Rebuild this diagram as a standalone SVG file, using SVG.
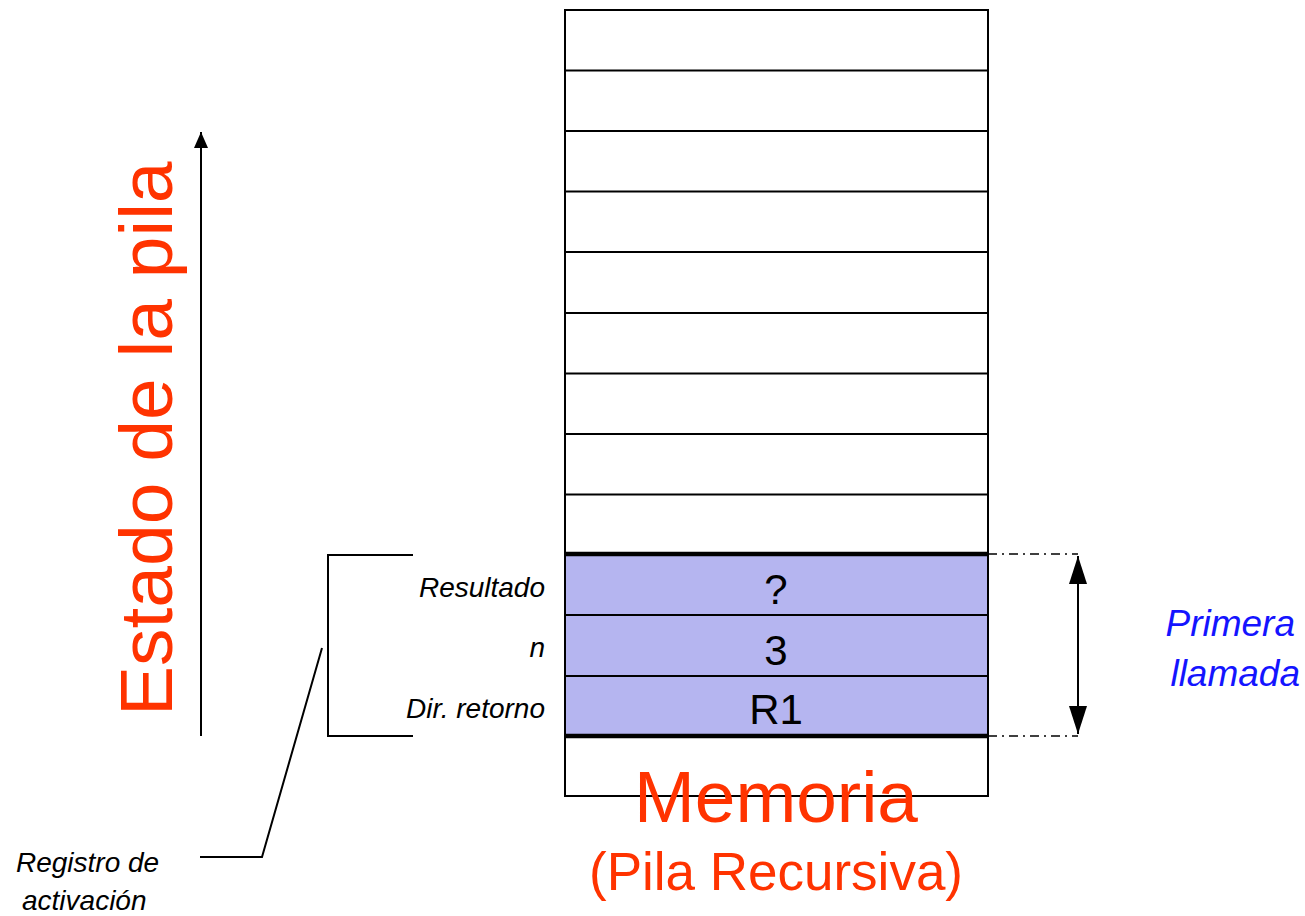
<svg xmlns="http://www.w3.org/2000/svg" width="1305" height="916" viewBox="0 0 1305 916">
<style>
.ln{stroke:#000;stroke-width:2;fill:none}
.thick{stroke:#000;stroke-width:4.5;fill:none}
.dd{stroke:#000;stroke-width:1.5;fill:none;stroke-dasharray:9 5 2 5}
.red{font-family:"Liberation Sans",Arial,sans-serif;fill:#ff3300}
.cell{font-family:"Liberation Sans",Arial,sans-serif;font-size:42px;fill:#000;text-anchor:middle}
.lab{font-family:"Liberation Sans",Arial,sans-serif;font-style:italic;font-size:28px;fill:#000}
.blue{font-family:"Liberation Sans",Arial,sans-serif;font-style:italic;font-size:37px;fill:#1414ff}
</style>
<defs>
<marker id="ah" markerWidth="16" markerHeight="18" refX="16" refY="9" orient="auto" markerUnits="userSpaceOnUse">
<path d="M0,2 L16,9 L0,16 Z" fill="#000"/>
</marker>
<marker id="big" markerWidth="28" markerHeight="18" refX="28" refY="9" orient="auto-start-reverse" markerUnits="userSpaceOnUse">
<path d="M0,0 L28,9 L0,18 Z" fill="#000"/>
</marker>
</defs>
<rect width="1305" height="916" fill="#fff"/>

<g id="stack">
<rect x="565" y="554" width="423" height="182" fill="#b5b5f0"/>
<rect x="565" y="10" width="423" height="786" class="ln"/>
<path class="ln" d="M565,70.5H988M565,131H988M565,191.5H988M565,252H988M565,313H988M565,373.5H988M565,434H988M565,494.5H988M565,615H988M565,676H988"/>
<path class="thick" d="M565,554H988M565,736H988"/>
</g>

<g id="cells">
<text class="cell" x="776" y="604">?</text>
<text class="cell" x="776" y="665">3</text>
<text class="cell" x="776" y="724">R1</text>
</g>

<g id="labels">
<text class="lab" x="545" y="597" text-anchor="end">Resultado</text>
<text class="lab" x="545" y="657" text-anchor="end">n</text>
<text class="lab" x="545" y="718" text-anchor="end">Dir. retorno</text>
<text class="lab" x="16" y="872">Registro de</text>
<text class="lab" x="22" y="910">activación</text>
</g>

<g id="titles">
<text class="red" font-size="75" transform="translate(172,716) rotate(-90)">Estado de la pila</text>
<text class="red" font-size="73" x="776" y="822" text-anchor="middle">Memoria</text>
<text class="red" font-size="53" x="776" y="890" text-anchor="middle">(Pila Recursiva)</text>
<text class="blue" x="1295" y="636" text-anchor="end">Primera</text>
<text class="blue" x="1300" y="686" text-anchor="end">llamada</text>
</g>

<g id="connectors">
<line x1="201" y1="736" x2="201" y2="132" class="ln" marker-end="url(#ah)"/>
<path class="ln" d="M413,555H328V736H413"/>
<path class="ln" d="M322,648L262,857H200"/>
<path class="dd" d="M988,554H1078M988,736H1078"/>
<line x1="1078" y1="556" x2="1078" y2="734" class="ln" marker-start="url(#big)" marker-end="url(#big)"/>
</g>
</svg>
